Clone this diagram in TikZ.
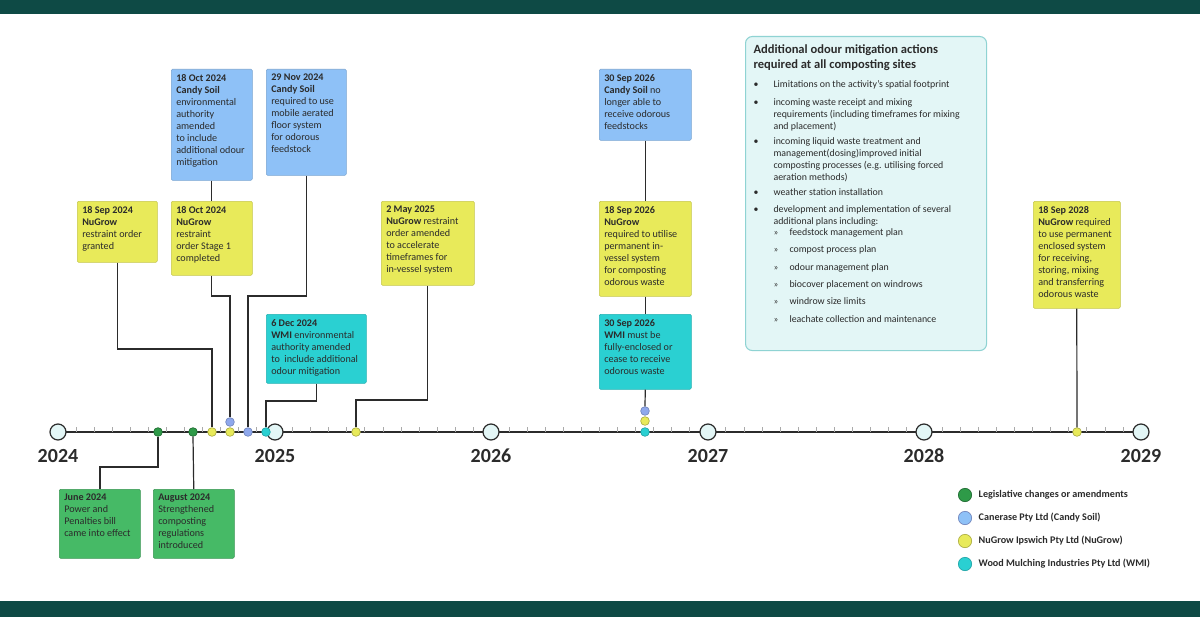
\documentclass[tikz,border=0pt]{standalone}
\usepackage{fontspec}
\setmainfont{Carlito}
\begin{document}
\definecolor{band}{HTML}{0E4A45}
\definecolor{cblue}{HTML}{8EC1F7}
\definecolor{cyel}{HTML}{E8EA5A}
\definecolor{ccyan}{HTML}{2AD0D2}
\definecolor{cgreen}{HTML}{46BA66}
\definecolor{dgreen}{HTML}{2E9A48}
\definecolor{dblue}{HTML}{8FA8EC}
\definecolor{ibox}{HTML}{E3F6F6}
\definecolor{iedge}{HTML}{8FD3D3}
\definecolor{ln}{HTML}{2B2B2B}
\begin{tikzpicture}[x=0.75pt,y=-0.75pt,
  bx/.style={anchor=north west,inner sep=3.75pt,rounded corners=1pt,font=\fontsize{7.6}{9}\selectfont,align=left,text=ln},
  bblue/.style={bx,fill=cblue,draw=cblue!85!black},
  byel/.style={bx,fill=cyel,draw=cyel!85!black},
  bcyan/.style={bx,fill=ccyan,draw=ccyan!85!black},
  bgreen/.style={bx,fill=cgreen,draw=cgreen!80!black},
  conn/.style={draw=ln,line width=0.9pt},
  dot/.style={circle,inner sep=0pt,minimum size=6.5pt,line width=0.5pt},
  dg/.style={dot,fill=dgreen,draw=dgreen!70!black},
  db/.style={dot,fill=dblue,draw=dblue!80!black},
  dy/.style={dot,fill=cyel,draw=cyel!75!black},
  dc/.style={dot,fill=ccyan,draw=ccyan!80!black},
  yr/.style={circle,inner sep=0pt,minimum size=12pt,fill=ibox,draw=ln,line width=0.9pt},
  yl/.style={font=\fontsize{15}{16}\selectfont\bfseries,text=ln},
  lg/.style={font=\fontsize{7.6}{9}\selectfont\bfseries,anchor=west,text=ln}]
\newcommand\bxx[7]{\node[#6] (#1) at (#2,#3) {\parbox[t][\dimexpr #5pt*3/4-7.5pt\relax][t]{\dimexpr #4pt*3/4-7.5pt\relax}{#7}};}
\useasboundingbox (0,0) rectangle (1200,617);
\fill[white] (0,0) rectangle (1200,617);
\fill[band] (0,0) rectangle (1200,14);
\fill[band] (0,601) rectangle (1200,617);
% axis
\draw[conn] (58,432) -- (1141,432);
\foreach \i in {0,...,60}{\draw[ln!40,line width=0.6pt] ({58+\i*18.05},432) -- ({58+\i*18.05},427);}
\foreach \n/\x in {2024/58,2025/275,2026/491,2027/708,2028/924,2029/1141}{
  \node[yr] (y\n) at (\x,432) {};
  \node[yl] (l\n) at (\x,456) {\n};}
% boxes
\bxx{bOct}{171}{69}{81}{111}{bblue}{\textbf{18 Oct 2024}\\\textbf{Candy Soil}\\environmental\\authority\\amended\\to include\\additional odour\\mitigation}
\bxx{bNov}{266}{69}{80}{106}{bblue}{\textbf{29 Nov 2024}\\\textbf{Candy Soil}\\required to use\\mobile aerated\\floor system\\for odorous\\feedstock}
\bxx{ySep}{77}{201}{80}{61}{byel}{\textbf{18 Sep 2024}\\\textbf{NuGrow}\\restraint order\\granted}
\bxx{yOct}{171}{201}{81}{74}{byel}{\textbf{18 Oct 2024}\\\textbf{NuGrow}\\restraint\\order Stage 1\\completed}
\bxx{cDec}{266}{314}{100}{69}{bcyan}{\textbf{6 Dec 2024}\\\textbf{WMI} environmental\\authority amended\\to\ \ include additional\\odour mitigation}
\bxx{yMay}{381}{201}{93}{84}{byel}{\textbf{2 May 2025}\\\textbf{NuGrow} restraint\\order amended\\to accelerate\\timeframes for\\in-vessel system}
\bxx{bSep26}{599}{69}{92}{71}{bblue}{\textbf{30 Sep 2026}\\\textbf{Candy Soil} no\\longer able to\\receive odorous\\feedstocks}
\bxx{ySep26}{599}{201}{92}{95}{byel}{\textbf{18 Sep 2026}\\\textbf{NuGrow}\\required to utilise\\permanent in-\\vessel system\\for composting\\odorous waste}
\bxx{cSep26}{599}{314}{92}{75}{bcyan}{\textbf{30 Sep 2026}\\\textbf{WMI} must be\\fully-enclosed or\\cease to receive\\odorous waste}
\bxx{ySep28}{1033}{201}{87}{107}{byel}{\textbf{18 Sep 2028}\\\textbf{NuGrow} required\\to use permanent\\enclosed system\\for receiving,\\storing, mixing\\and transferring\\odorous waste}
\bxx{gJun}{59}{489}{81}{69}{bgreen}{\textbf{June 2024}\\Power and\\Penalties bill\\came into effect}
\bxx{gAug}{153}{489}{81}{69}{bgreen}{\textbf{August 2024}\\Strengthened\\composting\\regulations\\introduced}
% info box
\node[anchor=north west,fill=ibox,draw=iedge,line width=0.8pt,rounded corners=5pt,inner sep=0pt,text=ln] (info) at (745,36) {\parbox[t][235.5pt][t]{180.75pt}{\vspace{6pt}\hspace*{6pt}\parbox[t]{170pt}{\fontsize{9.4}{11}\selectfont\bfseries Additional odour mitigation actions\\required at all composting sites}\par\vspace{3pt}
\fontsize{7.4}{9}\selectfont
\def\bl#1{\par\vspace{4pt}\noindent\hspace*{6pt}\makebox[15pt][l]{\textbullet}\parbox[t]{155pt}{\raggedright #1}}%
\def\sbl#1{\par\vspace{4pt}\noindent\hspace*{21pt}\makebox[12pt][l]{\scriptsize»}\parbox[t]{140pt}{\raggedright #1}}%
\bl{Limitations on the activity’s spatial footprint}
\bl{incoming waste receipt and mixing\\requirements (including timeframes for mixing\\and placement)}
\bl{incoming liquid waste treatment and\\management(dosing)improved initial\\composting processes (e.g. utilising forced\\aeration methods)}
\bl{weather station installation}
\bl{development and implementation of several\\additional plans including:}
\par\vspace{-3pt}\sbl{feedstock management plan}
\sbl{compost process plan}
\sbl{odour management plan}
\sbl{biocover placement on windrows}
\sbl{windrow size limits}
\sbl{leachate collection and maintenance}}};
% dots
\node[dg] (dJun) at (158,432) {};
\node[dg] (dAug) at (193,432) {};
\node[dy] (dSep) at (212,432) {};
\node[dy] (dOct) at (230,432) {};
\node[db] (dOctB) at (230,422) {};
\node[db] (dNov) at (248,432) {};
\node[dc] (dDec) at (266,432) {};
\node[dy] (dMay) at (356,432) {};
\node[db] (dS26b) at (645,411) {};
\node[dy] (dS26y) at (645,421) {};
\node[dc] (dS26c) at (645,432) {};
\node[dy] (dS28) at (1077,432) {};
% connectors
\draw[conn] (bOct.south) -- (yOct.north);
\draw[conn] (ySep.south) |- (212,349) -- (dSep.north);
\draw[conn] (yOct.south) |- (230,296) -- (dOctB.north);
\draw[conn] (bNov.south) |- (248,296) -- (dNov.north);
\draw[conn] (cDec.south) |- (266,401) -- (dDec.north);
\draw[conn] (yMay.south) |- (356,400) -- (dMay.north);
\draw[conn] (bSep26.south) -- (ySep26.north);
\draw[conn] (ySep26.south) -- (cSep26.north);
\draw[conn] (cSep26.south) -- (dS26b.north);
\draw[conn] (ySep28.south) -- (dS28.north);
\draw[conn] (dJun.south) |- (100,467) -- (gJun.north -| 100,0);
\draw[conn] (dAug.south) -- (gAug.north);
% legend
\node[dot,minimum size=10pt,fill=dgreen,draw=dgreen!70!black] (k1) at (965,495) {};
\node[dot,minimum size=10pt,fill=cblue,draw=dblue!80!black] (k2) at (965,518) {};
\node[dot,minimum size=10pt,fill=cyel,draw=cyel!75!black] (k3) at (965,541) {};
\node[dot,minimum size=10pt,fill=ccyan,draw=ccyan!80!black] (k4) at (965,564) {};
\node[lg] (t1) at (974,495) {Legislative changes or amendments};
\node[lg] (t2) at (974,518) {Canerase Pty Ltd (Candy Soil)};
\node[lg] (t3) at (974,541) {NuGrow Ipswich Pty Ltd (NuGrow)};
\node[lg] (t4) at (974,564) {Wood Mulching Industries Pty Ltd (WMI)};
\end{tikzpicture}
\end{document}
